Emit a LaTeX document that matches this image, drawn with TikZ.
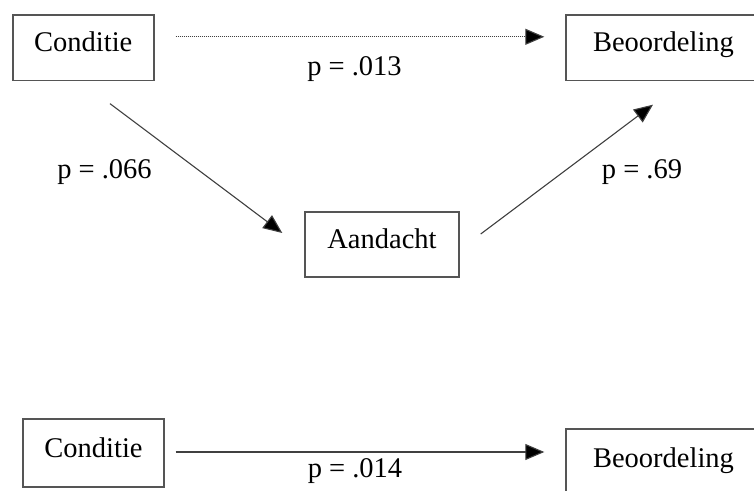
\documentclass[tikz,border=0pt]{standalone}
\usepackage{fontspec}
\setmainfont{Liberation Serif}
\usetikzlibrary{arrows.meta}
\definecolor{edge}{HTML}{555555}
\begin{document}
\begin{tikzpicture}[x=1pt,y=-1pt,
  box/.style={draw=edge,line width=1.4pt,rectangle,inner sep=0pt,text height=20pt,text depth=12pt,font=\fontsize{28.5}{30}\selectfont},
  lbl/.style={inner sep=0pt,anchor=base,font=\fontsize{28.5}{30}\selectfont},
  conn/.style={line width=1.1pt,draw=black!75,-{Triangle[length=19pt,width=16pt,fill=black]}}]
\useasboundingbox (0,0) rectangle (754,490);
\clip (0,0) rectangle (754,490);
\node[box,minimum width=141pt,minimum height=65.7pt] (c1) at (83.3,47.8) {Conditie};
\node[box,minimum width=195pt,minimum height=65.7pt] (b1) at (663.5,47.8) {Beoordeling};
\node[box,minimum width=154pt,minimum height=65pt] (a) at (382,244.5) {Aandacht};
\node[box,minimum width=141pt,minimum height=68pt] (c2) at (93.5,453) {Conditie};
\node[box,minimum width=195pt,minimum height=69pt] (b2) at (663.5,463.5) {Beoordeling};
\draw[conn,dash pattern=on 1pt off 1pt] ([xshift=21pt,yshift=11pt]c1.east) -- ([xshift=-21pt,yshift=11pt]b1.west);
\draw[conn] ([xshift=26.7pt,yshift=-22.3pt]c1.south) -- ([xshift=-22pt,yshift=11.5pt]a.west);
\draw[conn] ([xshift=21pt,yshift=10.5pt]a.east) -- ([xshift=-10.5pt,yshift=-23.3pt]b1.south);
\draw[conn] ([xshift=11pt,yshift=1pt]c2.east) -- ([xshift=-21pt,yshift=11.5pt]b2.west);
\node[lbl] (l1) at (354.5,75) {p = .013};
\node[lbl] (l2) at (104.5,178) {p = .066};
\node[lbl] (l3) at (642,178) {p = .69};
\node[lbl] (l4) at (355,477) {p = .014};
\end{tikzpicture}
\end{document}
